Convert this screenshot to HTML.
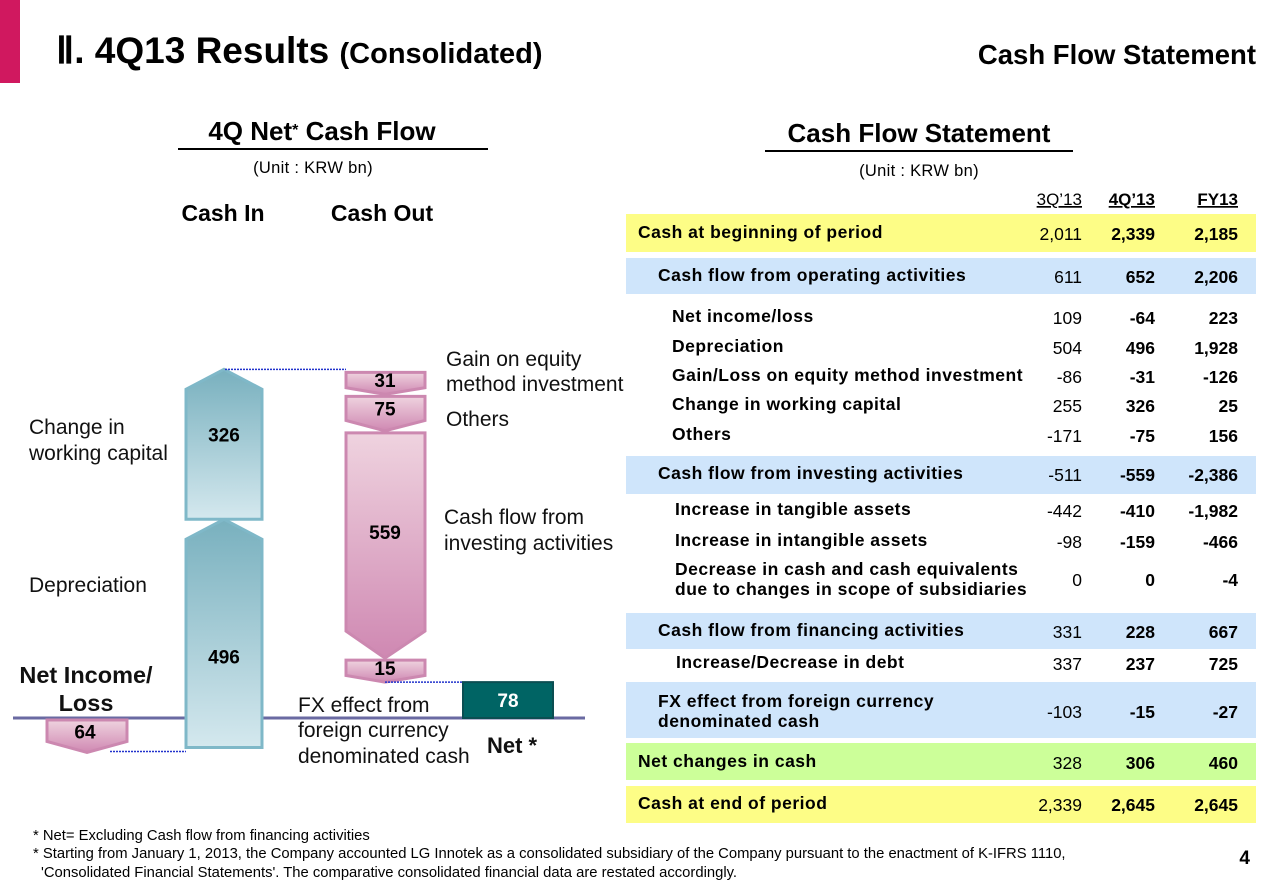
<!DOCTYPE html>
<html><head><meta charset="utf-8">
<style>
html,body{margin:0;padding:0;background:#fff;}
svg{display:block;font-family:"Liberation Sans",Arial,sans-serif;}
</style></head>
<body>
<svg id="s" width="1280" height="886" viewBox="0 0 1280 886" xmlns="http://www.w3.org/2000/svg">
<defs>
<linearGradient id="gb" x1="0" y1="0" x2="0" y2="1"><stop offset="0" stop-color="#78b0be"/><stop offset="1" stop-color="#d4e8ee"/></linearGradient>
<linearGradient id="gp" x1="0" y1="0" x2="0" y2="1"><stop offset="0" stop-color="#efd3df"/><stop offset="1" stop-color="#cf88b2"/></linearGradient>
</defs>
<rect x="0" y="0" width="20" height="83" fill="#d0185f"/>
<text x="56" y="63" font-size="37" font-weight="bold">Ⅱ. 4Q13 Results <tspan font-size="29">(Consolidated)</tspan></text>
<text x="1256" y="64" font-size="27.5" font-weight="bold" text-anchor="end">Cash Flow Statement</text>

<text x="322" y="140" font-size="26" font-weight="bold" text-anchor="middle">4Q Net<tspan font-size="16" dy="-5">*</tspan><tspan dy="5"> Cash Flow</tspan></text>
<line x1="178" y1="149" x2="488" y2="149" stroke="#000" stroke-width="2"/>
<text x="313" y="173" font-size="16.5" text-anchor="middle" letter-spacing="0.3">(Unit : KRW bn)</text>
<text x="223" y="221" font-size="23" font-weight="bold" text-anchor="middle">Cash In</text>
<text x="382" y="221" font-size="23" font-weight="bold" text-anchor="middle">Cash Out</text>

<text x="919" y="142" font-size="26" font-weight="bold" text-anchor="middle">Cash Flow Statement</text>
<line x1="765" y1="151" x2="1073" y2="151" stroke="#000" stroke-width="2"/>
<text x="919" y="176" font-size="16.5" text-anchor="middle" letter-spacing="0.3">(Unit : KRW bn)</text>

<g id="chart"></g>
<g id="table"></g>

<text x="33" y="840" font-size="14.8">* Net= Excluding Cash flow from financing activities</text>
<text x="33" y="858" font-size="14.8">* Starting from January 1, 2013, the Company accounted LG Innotek as a consolidated subsidiary of the Company pursuant to the enactment of K-IFRS 1110,</text>
<text x="41" y="877" font-size="14.8">'Consolidated Financial Statements'. The comparative consolidated financial data are restated accordingly.</text>
<text x="1250" y="864" font-size="19" font-weight="bold" text-anchor="end">4</text>
</svg>
<script>
// ---- chart data ----
const inNames = ['Net Income/Loss', 'Depreciation', 'Change in working capital'];
const inValues = [-64, 496, 326];
const outNames = ['Gain on equity method investment', 'Others', 'Cash flow from investing activities', 'FX effect'];
const outValues = [31, 75, 559, 15];
const netValue = 78;
// ---- table data ----
const rowLabels = ['Cash at beginning of period','Cash flow from operating activities','Net income/loss','Depreciation','Gain/Loss on equity method investment','Change in working capital','Others','Cash flow from investing activities','Increase in tangible assets','Increase in intangible assets','Decrease in cash and cash equivalents|due to changes in scope of subsidiaries','Cash flow from financing activities','Increase/Decrease in debt','FX effect from foreign currency|denominated cash','Net changes in cash','Cash at end of period'];
const q3Values = ['2,011','611','109','504','-86','255','-171','-511','-442','-98','0','331','337','-103','328','2,339'];
const q4Values = ['2,339','652','-64','496','-31','326','-75','-559','-410','-159','0','228','237','-15','306','2,645'];
const fyValues = ['2,185','2,206','223','1,928','-126','25','156','-2,386','-1,982','-466','-4','667','725','-27','460','2,645'];
const colHeads = ['3Q\u201913','4Q\u201913','FY13'];

const NS = 'http://www.w3.org/2000/svg';
function mk(tag, attrs, parent){ const e=document.createElementNS(NS,tag); for(const k in attrs) e.setAttribute(k,attrs[k]); parent.appendChild(e); return e; }

// ---- chart ----
const chart = document.getElementById('chart');
const base = 718, k = 0.46;
const yv = v => base - v*k;
mk('line',{x1:13,y1:base,x2:585,y2:base,stroke:'#6a6aa2','stroke-width':3},chart);
let cum = 0;
{
  const top = yv(cum), bot = yv(cum+inValues[0]);
  const p = mk('polygon',{points:`47,${top+2} 127,${top+2} 127,${bot-6} 87,${bot+5} 47,${bot-6}`,fill:'url(#gp)',stroke:'#cc88b0','stroke-width':3},chart);
  
  
  const t = mk('text',{x:85,y:(top+bot)/2+6,'font-size':19,'font-weight':'bold','text-anchor':'middle'},chart);
  t.textContent = String(Math.abs(inValues[0]));
  
  cum += inValues[0];
  mk('line',{x1:110,y1:bot+4,x2:186,y2:bot+4,stroke:'#2233cc','stroke-width':1.5,'stroke-dasharray':'2,1'},chart);
}
const blueNames = ['bar-depreciation','bar-working-capital'];
for (let i=1;i<inValues.length;i++){
  const bot = yv(cum), top = yv(cum+inValues[i]);
  const x0=186,x1=262,xc=224;
  const p = mk('polygon',{points:`${x0},${bot} ${x0},${top+20} ${xc},${top} ${x1},${top+20} ${x1},${bot}`,fill:'url(#gb)',stroke:'#7fb8c8','stroke-width':3},chart);
  
  
  const t = mk('text',{x:xc,y:(top+bot)/2+(i===1?30:-3),'font-size':19,'font-weight':'bold','text-anchor':'middle'},chart);
  t.textContent = String(inValues[i]);
  
  cum += inValues[i];
}
const peak = yv(cum);
mk('line',{x1:225,y1:peak,x2:346,y2:peak,stroke:'#2233cc','stroke-width':1.5,'stroke-dasharray':'2,1'},chart);
// out bars: min display height, excess taken from the largest
const netTop = yv(netValue);
const gap = 2;
const totalSpan = (netTop - peak) - gap*(outValues.length-1) - 3;
const hs = outValues.map(v => Math.max(22, v*k));
const rawSum = hs.reduce((a,b)=>a+b,0);
const bigIdx = outValues.indexOf(Math.max(...outValues));
hs[bigIdx] -= (rawSum - totalSpan);
let cur = peak + 3;
const outIds = ['bar-equity-gain','bar-others','bar-investing','bar-fx'];
for (let i=0;i<outValues.length;i++){
  const h = hs[i];
  const top = cur, bot = cur + h;
  const tip = Math.min(27, h*0.3);
  const p = mk('polygon',{points:`346,${top} 425,${top} 425,${bot-tip} 385,${bot} 346,${bot-tip}`,fill:'url(#gp)',stroke:'#cc88b0','stroke-width':3},chart);
  
  
  const t = mk('text',{x:385,y:(top+bot-tip)/2+7,'font-size':19,'font-weight':'bold','text-anchor':'middle'},chart);
  t.textContent = String(outValues[i]);
  
  cur = bot + gap;
}
mk('line',{x1:385,y1:netTop,x2:462,y2:netTop,stroke:'#2233cc','stroke-width':1.5,'stroke-dasharray':'2,1'},chart);
const nb = mk('rect',{x:463,y:netTop,width:90,height:base-netTop,fill:'#006464',stroke:'#0b4e52','stroke-width':2},chart);


const nt = mk('text',{x:508,y:(netTop+base)/2+7,'font-size':19,'font-weight':'bold','text-anchor':'middle',fill:'#fff'},chart);
nt.textContent = String(netValue);

const labs = [
 [29,'Change in',434,21,'normal','start'],[29,'working capital',460,21,'normal','start'],
 [29,'Depreciation',592,21,'normal','start'],
 [86,'Net Income/',683,23.5,'bold','middle'],[86,'Loss',711,23.5,'bold','middle'],
 [446,'Gain on equity',366,21,'normal','start'],[446,'method investment',391,21,'normal','start'],
 [446,'Others',426,21,'normal','start'],
 [444,'Cash flow from',524,21,'normal','start'],[444,'investing activities',550,21,'normal','start'],
 [298,'FX effect from',712,21,'normal','start'],[298,'foreign currency',737,21,'normal','start'],[298,'denominated cash',763,21,'normal','start'],
 [487,'Net *',753,22,'bold','start']
];
labs.forEach((l,i)=>{
  const t = mk('text',{x:l[0],y:l[2],'font-size':l[3],'font-weight':l[4],'text-anchor':l[5],fill:'#111'},chart);
  t.textContent = l[1];
  
  
});

// ---- table ----
const table = document.getElementById('table');
const rowY = [233,276,317,347,376,405,435,474,510,541,578,631,663,710,762,804];
const bgs = {0:['#fdfd86',214,38],1:['#cfe5fb',258,36],7:['#cfe5fb',456,38],11:['#cfe5fb',613,36],13:['#cfe5fb',682,56],14:['#ccff99',743,37],15:['#fdfd86',786,37]};
const indent = [638,658,672,672,672,672,672,658,675,675,675,658,676,658,638,638];
const colX = [1082,1155,1238];
colHeads.forEach((h,i)=>{
  const t = mk('text',{x:colX[i],y:205,'font-size':17,'text-anchor':'end','font-weight':i?'bold':'normal','text-decoration':'underline'},table);
  t.textContent = h;
  
  
});
rowLabels.forEach((lab,i)=>{
  if (bgs[i]) {
    const r = mk('rect',{x:626,y:bgs[i][1],width:630,height:bgs[i][2],fill:bgs[i][0]},table);
    
    
  }
  const parts = lab.split('|');
  parts.forEach((p,j)=>{
    const t = mk('text',{x:indent[i],y:rowY[i]+(parts.length>1?(j===0?-3:17):5),'font-size':17.5,'font-weight':'bold','letter-spacing':0.5},table);
    t.textContent = p;
    
    
  });
  const vy = rowY[i] + (parts.length>1?8:7);
  [q3Values[i],q4Values[i],fyValues[i]].forEach((v,c)=>{
    const t = mk('text',{x:colX[c],y:vy,'font-size':17.5,'text-anchor':'end','font-weight':c?'bold':'normal'},table);
    t.textContent = v;
    
    
  });
});
</script>
</body></html>
